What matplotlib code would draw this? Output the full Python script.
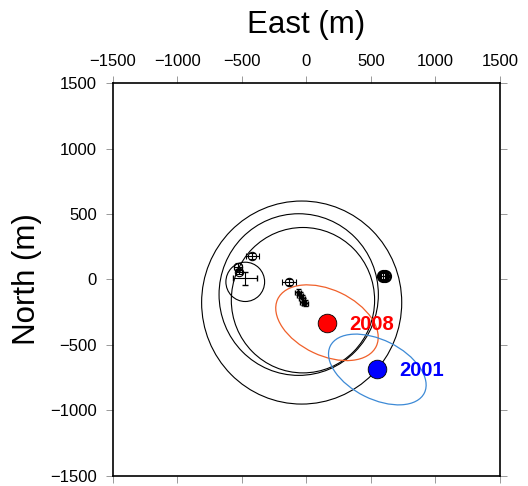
import matplotlib
matplotlib.use('Agg')
import matplotlib.pyplot as plt
from matplotlib.patches import Circle, Ellipse

plt.rcParams['font.family'] = ['Liberation Sans', 'DejaVu Sans']

# big uncertainty circles (m)
circ_x = [-36, -59, -26, -473]
circ_y = [-176, -115, -158, -18]
circ_r = [775, 617, 555, 150]

# event locations + error ellipses
years = ['2008', '2001']
ev_x = [160, 550]
ev_y = [-330, -687]
ev_col = ['red', 'blue']
ell_col = ['#f0602a', '#3d8ad6']
ell_a = [422, 406]
ell_b = [251, 226]
ell_ang = [-25, -26]

# small station-like symbols with error bars
sta_x = [-417, -529, -521, -134]
sta_y = [183, 99, 61, -21]
sta_ex = [54, 30, 25, 52]
sta_ey = [23, 30, 20, 23]

# the bold blob on the right
blob_x = [596, 606]
blob_y = [28, 25]
blob_ex = [32, 30]
blob_ey = [30, 28]

# the one with long bars and no visible circle
bar_x = [-475]
bar_y = [8]
bar_ex = [93]
bar_ey = [53]

# the tight chain near the centre
chain_x = [-64, -49, -33, -26, -10]
chain_y = [-99, -122, -145, -168, -183]
chain_e = [23, 23, 23, 23, 23]

fig = plt.figure(figsize=(5.28, 4.86), dpi=100)
ax = fig.add_axes([0.2134, 0.0206, 0.7335, 0.8086])

for x, y, r in zip(circ_x, circ_y, circ_r):
    ax.add_patch(Circle((x, y), r, fill=False, ec='black', lw=0.8))

for x, y, a, b, ang, c in zip(ev_x, ev_y, ell_a, ell_b, ell_ang, ell_col):
    ax.add_patch(Ellipse((x, y), 2 * a, 2 * b, angle=ang, fill=False, ec=c, lw=0.9))

ax.errorbar(sta_x, sta_y, xerr=sta_ex, yerr=sta_ey, fmt='o', ms=6, mfc='none',
            mec='black', mew=0.8, ecolor='black', elinewidth=0.8, capsize=2)
ax.errorbar(blob_x, blob_y, xerr=blob_ex, yerr=blob_ey, fmt='o', ms=8, mfc='none',
            mec='black', mew=1.5, ecolor='black', elinewidth=0.8, capsize=2)
ax.errorbar(bar_x, bar_y, xerr=bar_ex, yerr=bar_ey, fmt='none',
            ecolor='black', elinewidth=0.8, capsize=2.5)
ax.errorbar(chain_x, chain_y, xerr=chain_e, yerr=chain_e, fmt='o', ms=2,
            mfc='black', mec='black', ecolor='black', elinewidth=1.0, capsize=1.8)

for x, y, c, t in zip(ev_x, ev_y, ev_col, years):
    ax.plot(x, y, 'o', ms=13.4, mfc=c, mec='black', mew=0.6)
    ax.annotate(t, (x, y), xytext=(16, -1), textcoords='offset points',
                color=c, fontsize=14.5, fontweight='bold', va='center', ha='left')

ax.set_xlim(-1500, 1500)
ax.set_ylim(-1500, 1500)
ax.set_xticks(range(-1500, 1501, 500))
ax.set_yticks(range(-1500, 1501, 500))
ax.tick_params(direction='out', length=5, width=0.7, color='#999999',
               labelsize=12, pad=6.5, top=True, right=True,
               labeltop=True, labelbottom=False)
ax.tick_params(axis='x', pad=5)
for s in ax.spines.values():
    s.set_linewidth(1.2)

ax.xaxis.set_label_position('top')
ax.set_xlabel('East (m)', fontsize=22.5, labelpad=15)
ax.set_ylabel('North (m)', fontsize=22.5, labelpad=6)

fig.savefig('out.png', dpi=100)
